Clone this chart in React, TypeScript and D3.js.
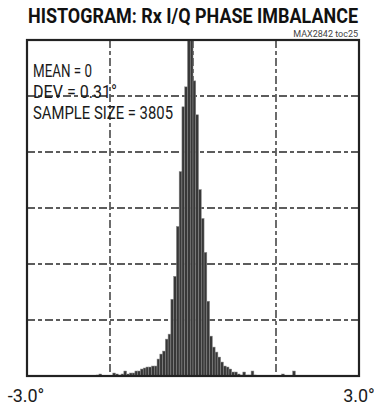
import React from "react";
import * as d3 from "d3";

// Histogram of receive I/Q phase imbalance, bins of 0.05° from -3.0° to +3.0°
const binStart = -3.0;
const binWidth = 0.05;
const counts: number[] = [
  // -3.00 .. -1.80
  0, 0, 0, 0, 0, 0, 0, 0, 0, 0, 0, 0, 0, 0, 0, 0, 0, 0, 0, 0, 0, 0, 0, 0, 0,
  // -1.75 .. -0.55
  1, 2, 0, 0, 0, 0, 3, 2, 1, 2, 5, 2, 3, 3, 5, 5, 7, 8, 9, 9, 10, 10, 17, 22, 25,
  // -0.50 .. -0.05
  37, 42, 77, 100, 150, 205, 270, 290, 380, 400,
  // 0.00 .. 1.20
  296, 262, 187, 158, 124, 75, 40, 29, 24, 19, 14, 10, 9, 7, 4, 4, 2, 1, 4, 1, 1, 5, 1, 0, 0,
  // 1.25 .. 2.45
  0, 0, 0, 0, 0, 0, 0, 2, 0, 0, 0, 5, 0, 0, 0, 0, 0, 0, 0, 0, 0, 0, 0, 0, 0,
  // 2.50 .. 2.95
  0, 0, 0, 0, 0, 0, 0, 0, 0, 0,
];

const xDomain: [number, number] = [-3, 3];
const yMax = 337;
const xGrid = [-1.5, 0, 1.5];
const yGridCount = 6;
const xTickLabels = ["-3.0°", "3.0°"];
const statLines = ["MEAN = 0", "DEV = 0.31°", "SAMPLE SIZE = 3805"];
const statWidths = [59, 84, 140];
const title = "HISTOGRAM: Rx I/Q PHASE IMBALANCE";
const figureId = "MAX2842 toc25";

const W = 374;
const H = 406;
const plot = { left: 27, right: 359, top: 40, bottom: 376 };

export default function App() {
  const x = d3.scaleLinear().domain(xDomain).range([plot.left, plot.right]);
  const y = d3.scaleLinear().domain([0, yMax]).range([plot.bottom, plot.top]);
  const yTicks = d3.range(1, yGridCount).map((i) => (yMax * i) / yGridCount);
  const gridDash = "8 3 4 3";
  const gridColor = "#5c5c5c";

  return (
    <svg
      width={W}
      height={H}
      style={{ position: "absolute", left: 0, top: 0, background: "#fff" }}
      fontFamily="Roboto, 'Liberation Sans', sans-serif"
    >
      <defs>
        <clipPath id="plotClip">
          <rect
            x={plot.left}
            y={plot.top}
            width={plot.right - plot.left}
            height={plot.bottom - plot.top}
          />
        </clipPath>
      </defs>

      {/* condensed bold heading: narrow glyphs stretched vertically */}
      <g transform="translate(28,23) scale(1,1.2)">
        <text
          x={0}
          y={0}
          fontSize={17}
          fontWeight={700}
          fill="#111"
          textLength={330}
          lengthAdjust="spacingAndGlyphs"
        >
          {title}
        </text>
      </g>
      <text x={358} y={37} fontSize={9} fill="#444" textAnchor="end">
        {figureId}
      </text>

      {/* grid */}
      <g stroke={gridColor} strokeWidth={1.8} strokeDasharray={gridDash}>
        {xGrid.map((v) => (
          <line key={"gx" + v} x1={x(v)} x2={x(v)} y1={plot.top} y2={plot.bottom} />
        ))}
        {yTicks.map((v) => (
          <line key={"gy" + v} x1={plot.left} x2={plot.right} y1={y(v)} y2={y(v)} />
        ))}
      </g>

      {/* histogram bars */}
      <g clipPath="url(#plotClip)">
        {counts.map((c, i) => {
          if (c <= 0) return null;
          const x0 = x(binStart + i * binWidth);
          const x1 = x(binStart + (i + 1) * binWidth);
          return (
            <rect
              key={i}
              x={x0}
              y={y(c)}
              width={x1 - x0}
              height={plot.bottom - y(c)}
              fill="#383838"
              stroke="#8c8c8c"
              strokeWidth={0.5}
            />
          );
        })}
      </g>

      {/* frame */}
      <rect
        x={plot.left}
        y={plot.top}
        width={plot.right - plot.left}
        height={plot.bottom - plot.top}
        fill="none"
        stroke="#222"
        strokeWidth={2.2}
      />

      {/* statistics */}
      {statLines.map((s, i) => (
        <text
          key={s}
          x={33}
          y={77 + i * 21}
          fontSize={18.5}
          fill="#1a1a1a"
          textLength={statWidths[i]}
          lengthAdjust="spacingAndGlyphs"
        >
          {s}
        </text>
      ))}

      {/* x extent labels */}
      {xTickLabels.map((t, i) => (
        <text
          key={t}
          x={x(xDomain[i]) + (i === 0 ? -1 : 0)}
          y={402}
          fontSize={18}
          fill="#1a1a1a"
          textAnchor="middle"
        >
          {t}
        </text>
      ))}
    </svg>
  );
}
